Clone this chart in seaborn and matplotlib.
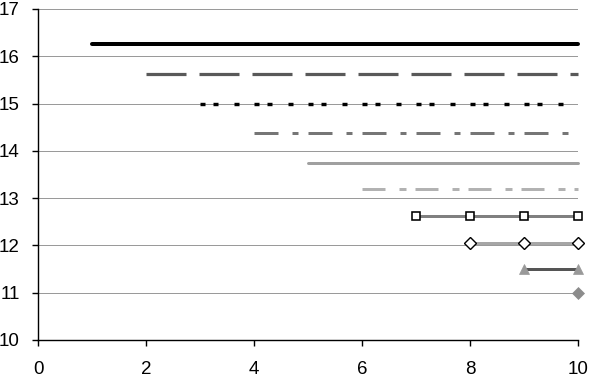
import matplotlib
matplotlib.use("Agg")
import matplotlib.pyplot as plt
import seaborn as sns
import pandas as pd

# series data: level of each flat line and the x where it begins (all end at x=10)
levels = [16.25, 15.62, 15.0, 14.37, 13.75, 13.19, 12.62, 12.06, 11.5, 11.0]
starts = [1, 2, 3, 4, 5, 6, 7, 8, 9, 10]
x_end = 10

y_ticks = [10, 11, 12, 13, 14, 15, 16, 17]
x_ticks = [0, 2, 4, 6, 8, 10]

sns.set_style("white")
plt.rcParams["font.family"] = ["Liberation Sans", "DejaVu Sans"]
plt.rcParams["lines.scale_dashes"] = False

PX = 72 / 100  # one pixel in points at dpi 100

styles = [
    dict(color="black", lw=4 * PX),
    dict(color="#595959", lw=3.2 * PX, linestyle=(0, (40 * PX, 13 * PX))),
    dict(color="black", lw=3.4 * PX,
         linestyle=(0, (5 * PX, 8 * PX, 5 * PX, 16 * PX, 5 * PX, 15 * PX))),
    dict(color="#767676", lw=3 * PX,
         linestyle=(0, (24 * PX, 14 * PX, 6 * PX, 10 * PX))),
    dict(color="#a0a0a0", lw=3 * PX),
    dict(color="#b2b2b2", lw=3 * PX,
         linestyle=(0, (23 * PX, 14 * PX, 7 * PX, 9 * PX))),
    dict(color="#808080", lw=3 * PX, marker="s", markersize=8 * PX,
         markerfacecolor="white", markeredgecolor="black", markeredgewidth=1.6 * PX),
    dict(color="#a6a6a6", lw=3 * PX, marker="D", markersize=8 * PX,
         markerfacecolor="white", markeredgecolor="black", markeredgewidth=1.4 * PX),
    dict(color="#555555", lw=3 * PX, marker="^", markersize=10 * PX,
         markerfacecolor="#999999", markeredgecolor="#999999", markeredgewidth=0.5),
    dict(color="#8c8c8c", lw=3 * PX, marker="D", markersize=9 * PX,
         markerfacecolor="#8c8c8c", markeredgecolor="#8c8c8c", markeredgewidth=0.5),
]

fig = plt.figure(figsize=(5.9, 3.78), dpi=100)
ax = fig.add_axes([38 / 590, 1 - 340 / 378, 540 / 590, 331 / 378])

for lvl, st, kw in zip(levels, starts, styles):
    xs = list(range(st, x_end + 1))
    df = pd.DataFrame({"x": xs, "y": [lvl] * len(xs)})
    sns.lineplot(data=df, x="x", y="y", ax=ax, legend=False, clip_on=False, **kw)

ax.set_xlim(0, 10)
ax.set_ylim(10, 17)
ax.set_xticks(x_ticks)
ax.set_yticks(y_ticks)
ax.set_xlabel("")
ax.set_ylabel("")
ax.grid(axis="y", color="#9a9a9a", lw=1 * PX)
ax.set_axisbelow(True)
for s in ["top", "right"]:
    ax.spines[s].set_visible(False)
for s in ["left", "bottom"]:
    ax.spines[s].set_color("black")
    ax.spines[s].set_linewidth(1.4 * PX)
ax.tick_params(axis="both", direction="out", length=6 * PX, width=1.4 * PX,
               color="black", labelsize=13.5, labelcolor="black",
               left=True, bottom=True)
ax.tick_params(axis="x", pad=10.5)
ax.tick_params(axis="y", pad=9)

fig.savefig("out.png", dpi=100)
